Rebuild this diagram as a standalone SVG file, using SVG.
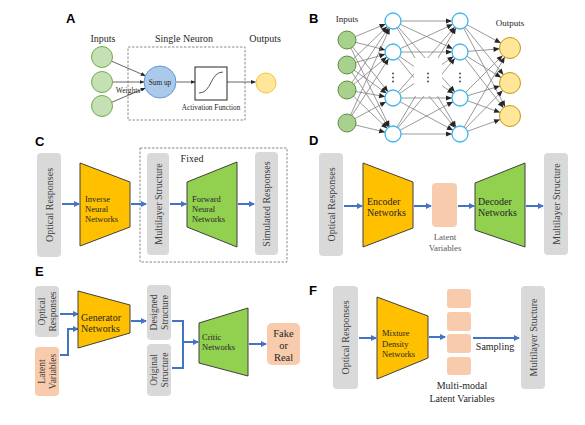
<svg xmlns="http://www.w3.org/2000/svg" width="585" height="425" viewBox="0 0 585 425">
<style>
.lbl{font-family:"Liberation Serif","Times New Roman",serif;fill:#262626}
.let{font-family:"Liberation Sans",Arial,sans-serif;font-weight:bold;font-size:13px;fill:#000}
.gbox{fill:#d9d9d9}
.pbox{fill:#f8cbad}
.yel{fill:#ffc000;stroke:#404040;stroke-width:1}
.grn{fill:#92d050;stroke:#404040;stroke-width:1}
.rt{font-family:"Liberation Serif","Times New Roman",serif;font-size:10px;fill:#404040;text-anchor:middle;dominant-baseline:central}
.blue{stroke:#4472c4;stroke-width:2;fill:none;marker-end:url(#ba)}
.bline{stroke:#4472c4;stroke-width:2;fill:none}
.gl{stroke:#808080;stroke-width:0.8}
.al{stroke:#404040;stroke-width:0.8;fill:none;marker-end:url(#aa)}
.dash{fill:none;stroke:#7f7f7f;stroke-width:0.9;stroke-dasharray:2.5,1.5}
.hid{fill:#fff;stroke:#3db6ee;stroke-width:1.3}
.bin{fill:#a9d18e;stroke:#548235;stroke-width:0.9}
.bout{fill:#ffe699;stroke:#bf9000;stroke-width:0.9}
</style>
<defs>
<marker id="ba" viewBox="0 0 6 6" refX="5" refY="3" markerWidth="6" markerHeight="6" markerUnits="userSpaceOnUse" orient="auto"><path d="M0,0 L6,3 L0,6z" fill="#4472c4"/></marker>
<marker id="aa" viewBox="0 0 5 4" refX="4.5" refY="2" markerWidth="5" markerHeight="4" markerUnits="userSpaceOnUse" orient="auto"><path d="M0,0 L5,2 L0,4z" fill="#262626"/></marker>
<marker id="h8" viewBox="-9 -3 9 6" refX="8" refY="0" markerWidth="9" markerHeight="6" markerUnits="userSpaceOnUse" orient="auto"><path d="M-6,-2.6 L0,0 L-6,2.6z" fill="#262626"/></marker>
<marker id="h10" viewBox="-9 -3 9 6" refX="10.5" refY="0" markerWidth="9" markerHeight="6" markerUnits="userSpaceOnUse" orient="auto"><path d="M-6,-2.6 L0,0 L-6,2.6z" fill="#262626"/></marker>
<mask id="mid" maskUnits="userSpaceOnUse" x="380" y="0" width="100" height="150"><rect x="380" y="0" width="100" height="150" fill="#fff"/><rect x="414" y="58" width="28" height="38" fill="#000"/></mask>
</defs>
<rect width="585" height="425" fill="#fff"/>

<!-- Panel letters -->
<text class="let" x="66" y="23">A</text>
<text class="let" x="309" y="23">B</text>
<text class="let" x="35" y="146">C</text>
<text class="let" x="309" y="145">D</text>
<text class="let" x="35" y="276">E</text>
<text class="let" x="309" y="295">F</text>

<!-- ===== Panel A ===== -->
<g id="A-labels">
<text class="lbl" x="103" y="41.5" font-size="10" text-anchor="middle">Inputs</text>
<text class="lbl" x="184" y="41.5" font-size="10" text-anchor="middle">Single Neuron</text>
<text class="lbl" x="265" y="41.5" font-size="10" text-anchor="middle">Outputs</text>
</g>
<rect id="A-neuron-box" class="dash" x="128" y="47" width="117" height="73"/>
<g id="A-connectors">
<line class="al" x1="111.6" y1="61.2" x2="145.3" y2="75.7"/>
<line class="al" x1="112.5" y1="82" x2="144" y2="82"/>
<line class="al" x1="111.7" y1="102.3" x2="145.2" y2="88.1"/>
<line class="al" x1="176.5" y1="82" x2="195" y2="82"/>
<line class="al" x1="227" y1="82" x2="255.5" y2="82"/>
<text class="lbl" x="128" y="93" font-size="7.5" text-anchor="middle">Weights</text>
</g>
<g id="A-in1"><circle cx="102" cy="57" r="10.5" fill="#c5e0b4" stroke="#70ad47" stroke-width="1"/></g>
<g id="A-in2"><circle cx="102" cy="82" r="10.5" fill="#c5e0b4" stroke="#70ad47" stroke-width="1"/></g>
<g id="A-in3"><circle cx="102" cy="106" r="10.5" fill="#c5e0b4" stroke="#70ad47" stroke-width="1"/></g>
<g id="A-sum"><circle cx="160" cy="82" r="16" fill="#abc9ea" stroke="#5b9bd5" stroke-width="1"/>
<text class="lbl" x="160" y="84.5" font-size="7.3" text-anchor="middle">Sum up</text></g>
<g id="A-act"><rect x="195" y="67" width="32" height="33" fill="#fff" stroke="#262626" stroke-width="1"/>
<path d="M199,93 C212,93 210,72 223,72" fill="none" stroke="#595959" stroke-width="1"/>
<text class="lbl" x="211" y="110" font-size="7.3" text-anchor="middle">Activation Function</text></g>
<g id="A-out"><circle cx="266" cy="83" r="10" fill="#ffe699" stroke="#f4c542" stroke-width="1"/></g>

<!-- ===== Panel B ===== -->
<text class="lbl" x="347" y="22" font-size="9" text-anchor="middle">Inputs</text>
<text class="lbl" x="510" y="26" font-size="9" text-anchor="middle">Outputs</text>
<g id="B-connectors">
<g class="gl" marker-end="url(#h8)">
<line x1="347" y1="40" x2="393" y2="21"/><line x1="347" y1="40" x2="393" y2="52"/><line x1="347" y1="40" x2="393" y2="98"/><line x1="347" y1="40" x2="393" y2="134"/>
<line x1="347" y1="65" x2="393" y2="21"/><line x1="347" y1="65" x2="393" y2="52"/><line x1="347" y1="65" x2="393" y2="98"/><line x1="347" y1="65" x2="393" y2="134"/>
<line x1="347" y1="90" x2="393" y2="21"/><line x1="347" y1="90" x2="393" y2="52"/><line x1="347" y1="90" x2="393" y2="98"/><line x1="347" y1="90" x2="393" y2="134"/>
<line x1="347" y1="123" x2="393" y2="21"/><line x1="347" y1="123" x2="393" y2="52"/><line x1="347" y1="123" x2="393" y2="98"/><line x1="347" y1="123" x2="393" y2="134"/>
</g>
<g class="gl" marker-end="url(#h8)" mask="url(#mid)">
<line x1="393" y1="21" x2="460" y2="21"/><line x1="393" y1="21" x2="460" y2="52"/><line x1="393" y1="21" x2="460" y2="98"/><line x1="393" y1="21" x2="460" y2="134"/>
<line x1="393" y1="52" x2="460" y2="21"/><line x1="393" y1="52" x2="460" y2="52"/><line x1="393" y1="52" x2="460" y2="98"/><line x1="393" y1="52" x2="460" y2="134"/>
<line x1="393" y1="98" x2="460" y2="21"/><line x1="393" y1="98" x2="460" y2="52"/><line x1="393" y1="98" x2="460" y2="98"/><line x1="393" y1="98" x2="460" y2="134"/>
<line x1="393" y1="134" x2="460" y2="21"/><line x1="393" y1="134" x2="460" y2="52"/><line x1="393" y1="134" x2="460" y2="98"/><line x1="393" y1="134" x2="460" y2="134"/>
</g>
<g class="gl" marker-end="url(#h10)">
<line x1="460" y1="21" x2="510" y2="48"/><line x1="460" y1="21" x2="510" y2="83"/><line x1="460" y1="21" x2="510" y2="116"/>
<line x1="460" y1="52" x2="510" y2="48"/><line x1="460" y1="52" x2="510" y2="83"/><line x1="460" y1="52" x2="510" y2="116"/>
<line x1="460" y1="98" x2="510" y2="48"/><line x1="460" y1="98" x2="510" y2="83"/><line x1="460" y1="98" x2="510" y2="116"/>
<line x1="460" y1="134" x2="510" y2="48"/><line x1="460" y1="134" x2="510" y2="83"/><line x1="460" y1="134" x2="510" y2="116"/>
</g>
</g>
<g id="B-inputs"><circle class="bin" cx="347" cy="40" r="9"/><circle class="bin" cx="347" cy="65" r="9"/><circle class="bin" cx="347" cy="90" r="9"/><circle class="bin" cx="347" cy="123" r="9"/></g>
<g id="B-hidden1"><circle class="hid" cx="393" cy="21" r="8"/><circle class="hid" cx="393" cy="52" r="8"/><circle class="hid" cx="393" cy="98" r="8"/><circle class="hid" cx="393" cy="134" r="8"/></g>
<g id="B-hidden2"><circle class="hid" cx="460" cy="21" r="8"/><circle class="hid" cx="460" cy="52" r="8"/><circle class="hid" cx="460" cy="98" r="8"/><circle class="hid" cx="460" cy="134" r="8"/></g>
<g id="B-outputs"><circle class="bout" cx="510" cy="48" r="10.5"/><circle class="bout" cx="510" cy="83" r="10.5"/><circle class="bout" cx="510" cy="116" r="10.5"/></g>
<g id="B-dots" fill="#404040">
<circle cx="393" cy="73.5" r="0.9"/><circle cx="393" cy="77.5" r="0.9"/><circle cx="393" cy="81.5" r="0.9"/>
<circle cx="428" cy="73.5" r="0.9"/><circle cx="428" cy="77.5" r="0.9"/><circle cx="428" cy="81.5" r="0.9"/>
<circle cx="460" cy="73.5" r="0.9"/><circle cx="460" cy="77.5" r="0.9"/><circle cx="460" cy="81.5" r="0.9"/>
</g>

<!-- ===== Panel C ===== -->
<rect id="C-fixed" class="dash" x="140" y="148" width="147" height="114"/>
<text class="lbl" x="192" y="161.5" font-size="10" text-anchor="middle">Fixed</text>
<g id="C-connectors">
<line class="blue" x1="62" y1="204" x2="79" y2="204"/>
<line class="blue" x1="131" y1="204" x2="146" y2="204"/>
<line class="blue" x1="170" y1="204" x2="186" y2="204"/>
<line class="blue" x1="238" y1="204" x2="254" y2="204"/>
</g>
<g id="C-optical"><rect class="gbox" x="37" y="153" width="24" height="104" rx="4"/><text class="rt" transform="translate(49,205) rotate(-90)">Optical Responses</text></g>
<g id="C-inverse"><path class="yel" d="M80,163 L130,182 L130,227 L80,246z"/>
<text class="lbl" font-size="8.5" x="85" y="202">Inverse</text><text class="lbl" font-size="8.5" x="85" y="212">Neural</text><text class="lbl" font-size="8.5" x="85" y="222">Networks</text></g>
<g id="C-multilayer"><rect class="gbox" x="147" y="153" width="22" height="102" rx="4"/><text class="rt" transform="translate(158,204) rotate(-90)">Multilayer Structure</text></g>
<g id="C-forward"><path class="grn" d="M187,182 L237,162 L237,247 L187,227z"/>
<text class="lbl" font-size="8.5" x="192" y="202">Forward</text><text class="lbl" font-size="8.5" x="192" y="212">Neural</text><text class="lbl" font-size="8.5" x="192" y="222">Networks</text></g>
<g id="C-simulated"><rect class="gbox" x="255" y="152" width="23" height="103" rx="4"/><text class="rt" transform="translate(266.5,204) rotate(-90)">Simulated Responses</text></g>

<!-- ===== Panel D ===== -->
<g id="D-connectors">
<line class="blue" x1="344" y1="206" x2="362" y2="206"/>
<line class="blue" x1="414" y1="206" x2="431" y2="206"/>
<line class="blue" x1="458" y1="206" x2="474" y2="206"/>
<line class="blue" x1="526" y1="206" x2="543" y2="206"/>
</g>
<g id="D-optical"><rect class="gbox" x="319" y="153" width="24" height="103" rx="4"/><text class="rt" transform="translate(331,204.5) rotate(-90)">Optical Responses</text></g>
<g id="D-encoder"><path class="yel" d="M363,163 L413,182 L413,228 L363,247z"/>
<text class="lbl" font-size="10" x="367" y="204.5">Encoder</text><text class="lbl" font-size="10" x="367" y="215.5">Networks</text></g>
<g id="D-latent"><rect class="pbox" x="432" y="183" width="25" height="44" rx="4"/>
<text class="lbl" font-size="8.8" x="445" y="240" text-anchor="middle" fill="#595959" style="fill:#595959">Latent</text><text class="lbl" font-size="8.8" x="445" y="251" text-anchor="middle" style="fill:#595959">Variables</text></g>
<g id="D-decoder"><path class="grn" d="M475,183 L525,163 L525,247 L475,230z"/>
<text class="lbl" font-size="10" x="478" y="204.5">Decoder</text><text class="lbl" font-size="10" x="478" y="215.5">Networks</text></g>
<g id="D-multilayer"><rect class="gbox" x="544" y="153" width="24" height="102" rx="4"/><text class="rt" transform="translate(556,204) rotate(-90)">Multilayer Structure</text></g>

<!-- ===== Panel E ===== -->
<g id="E-connectors">
<line class="blue" x1="60" y1="314" x2="78" y2="314"/>
<polyline class="blue" points="60,355 68,355 68,329 78,329"/>
<line class="blue" x1="131" y1="321" x2="146" y2="321"/>
<polyline class="bline" points="172,321 183,321 183,342"/>
<polyline class="blue" points="172,368 183,368 183,342 198,342"/>
<line class="blue" x1="249" y1="344" x2="266" y2="344"/>
</g>
<g id="E-optical"><rect class="gbox" x="35" y="286" width="24" height="51" rx="4"/>
<text class="rt" font-size="9.5" style="font-size:9.5px" transform="translate(47,311.5) rotate(-90)"><tspan x="0" y="-5.5">Optical</tspan><tspan x="0" y="5.5">Responses</tspan></text></g>
<g id="E-latent"><rect class="pbox" x="35" y="347" width="24" height="49" rx="4"/>
<text class="rt" font-size="9.5" style="font-size:9.5px" transform="translate(47,371.5) rotate(-90)"><tspan x="0" y="-5.5">Latent</tspan><tspan x="0" y="5.5">Variables</tspan></text></g>
<g id="E-generator"><path class="yel" d="M78,291 L130,305 L130,333 L78,348z"/>
<text class="lbl" font-size="10" x="81" y="320.5">Generator</text><text class="lbl" font-size="10" x="81" y="331.5">Networks</text></g>
<g id="E-designed"><rect class="gbox" x="147" y="285" width="24" height="55" rx="4"/>
<text class="rt" font-size="9.5" style="font-size:9.5px" transform="translate(159,312.5) rotate(-90)"><tspan x="0" y="-5.5">Designed</tspan><tspan x="0" y="5.5">Structure</tspan></text></g>
<g id="E-original"><rect class="gbox" x="147" y="344" width="24" height="52" rx="4"/>
<text class="rt" font-size="9.5" style="font-size:9.5px" transform="translate(159,370) rotate(-90)"><tspan x="0" y="-5.5">Original</tspan><tspan x="0" y="5.5">Structure</tspan></text></g>
<g id="E-critic"><path class="grn" d="M199,323 L248,308 L248,376 L199,363z"/>
<text class="lbl" font-size="8.5" x="202" y="340">Critic</text><text class="lbl" font-size="8.5" x="202" y="350">Networks</text></g>
<g id="E-fake"><rect class="pbox" x="267" y="323" width="33" height="42" rx="5"/>
<text class="lbl" font-size="10.5" x="283.5" y="336.5" text-anchor="middle">Fake</text><text class="lbl" font-size="10.5" x="283.5" y="348.5" text-anchor="middle">or</text><text class="lbl" font-size="10.5" x="283.5" y="360.5" text-anchor="middle">Real</text></g>

<!-- ===== Panel F ===== -->
<g id="F-connectors">
<line class="blue" x1="359" y1="338" x2="376" y2="338"/>
<line class="blue" x1="429" y1="337" x2="445" y2="337"/>
<line class="blue" x1="473" y1="338" x2="519" y2="338"/>
<text class="lbl" font-size="10" x="495" y="350" text-anchor="middle">Sampling</text>
</g>
<g id="F-optical"><rect class="gbox" x="333" y="286" width="25" height="103" rx="4"/><text class="rt" transform="translate(345.5,337.5) rotate(-90)">Optical Responses</text></g>
<g id="F-mdn"><path class="yel" d="M377,297 L428,316 L428,358 L377,379z"/>
<text class="lbl" font-size="8.5" x="382" y="336">Mixture</text><text class="lbl" font-size="8.5" x="382" y="346.5">Density</text><text class="lbl" font-size="8.5" x="382" y="357">Networks</text></g>
<g id="F-latent">
<rect class="pbox" x="447" y="289" width="24" height="19" rx="3"/>
<rect class="pbox" x="447" y="312" width="24" height="19" rx="3"/>
<rect class="pbox" x="447" y="334" width="24" height="19" rx="3"/>
<rect class="pbox" x="447" y="357" width="24" height="18" rx="3"/>
<text class="lbl" font-size="10" x="462" y="388.5" text-anchor="middle">Multi-modal</text><text class="lbl" font-size="10" x="462" y="401.5" text-anchor="middle">Latent Variables</text></g>
<g id="F-multilayer"><rect class="gbox" x="521" y="286" width="24" height="103" rx="4"/><text class="rt" transform="translate(533,337.5) rotate(-90)">Multilayer Stucture</text></g>
</svg>
